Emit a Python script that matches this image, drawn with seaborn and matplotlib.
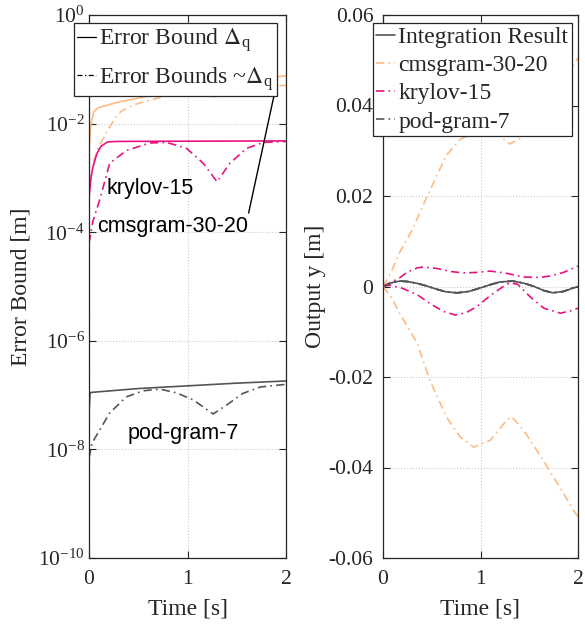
import numpy as np
import pandas as pd
import matplotlib
matplotlib.use("Agg")
import matplotlib.pyplot as plt
from matplotlib.lines import Line2D
import seaborn as sns

#%% data
# left panel: error bounds (solid) and estimated bounds (dash-dot)
t_cms_bound = [0, 0.02, 0.05, 0.09, 0.3, 0.6, 1.0, 1.4, 1.8, 2.0]
cms_bound = [3.2e-3, 1.0e-2, 1.66e-2, 1.95e-2, 2.5e-2, 3.2e-2, 4.2e-2, 5.5e-2, 6.9e-2, 7.6e-2]
t_cms_est = [0.05, 0.09, 0.19, 0.27, 0.33, 0.45, 0.55, 0.8, 1.0, 1.3, 1.6, 1.9, 2.0]
cms_est = [2.0e-3, 3.5e-3, 7.6e-3, 1.3e-2, 1.7e-2, 2.2e-2, 2.5e-2, 3.3e-2, 3.55e-2, 3.1e-2, 4.0e-2, 4.9e-2, 5.1e-2]

t_kry_bound = [0, 0.02, 0.04, 0.08, 0.12, 0.19, 0.3, 2.0]
kry_bound = [4.3e-4, 1.0e-3, 1.6e-3, 2.8e-3, 3.8e-3, 4.6e-3, 4.7e-3, 4.8e-3]
t_kry_est = [0, 0.04, 0.11, 0.21, 0.38, 0.62, 0.79, 0.99, 1.16, 1.3, 1.43, 1.6, 1.77, 2.0]
kry_est = [6.3e-5, 1.6e-4, 4.0e-4, 1.86e-3, 3.2e-3, 4.4e-3, 4.5e-3, 3.5e-3, 1.86e-3, 8.5e-4, 1.86e-3, 3.5e-3, 4.5e-3, 4.7e-3]

t_pod_bound = [0, 0.01, 0.02, 0.5, 1.0, 1.5, 2.0]
pod_bound = [4.9e-8, 1.05e-7, 1.12e-7, 1.32e-7, 1.48e-7, 1.66e-7, 1.82e-7]
t_pod_est = [0, 0.03, 0.21, 0.38, 0.55, 0.72, 0.89, 1.06, 1.26, 1.4, 1.56, 1.74, 2.0]
pod_est = [6.9e-9, 1.3e-8, 4.7e-8, 9.3e-8, 1.2e-7, 1.29e-7, 1.1e-7, 8.1e-8, 4.5e-8, 6.6e-8, 1.07e-7, 1.41e-7, 1.58e-7]

# right panel: output y
t_int = [0, 0.05, 0.1, 0.17, 0.25, 0.35, 0.45, 0.55, 0.65, 0.76, 0.88, 1.0, 1.1, 1.2, 1.33, 1.45, 1.55, 1.65, 1.74, 1.85, 1.93, 2.0]
y_int = [0, 0.0005, 0.0009, 0.0012, 0.0011, 0.0007, 0.0001, -0.0006, -0.0012, -0.0014, -0.0011, -0.0003,
         0.0004, 0.0010, 0.0012, 0.0007, 0.0, -0.0009, -0.0014, -0.0011, -0.0005, 0.0]

t_cms_up = [0, 0.08, 0.17, 0.3, 0.45, 0.65, 0.79, 0.91, 1.0, 1.17, 1.3, 1.44, 1.64, 1.85, 1.94, 2.0]
y_cms_up = [0, 0.003, 0.0075, 0.0125, 0.0198, 0.029, 0.0325, 0.0337, 0.0345, 0.0337, 0.0315, 0.033, 0.040, 0.046, 0.0485, 0.0505]
t_cms_lo = [0, 0.08, 0.17, 0.35, 0.48, 0.65, 0.79, 0.93, 1.1, 1.27, 1.32, 1.44, 1.64, 1.85, 2.0]
y_cms_lo = [0, -0.0022, -0.0059, -0.0125, -0.0207, -0.0288, -0.0332, -0.0355, -0.034, -0.0295, -0.0288, -0.0317, -0.0383, -0.0457, -0.051]

t_kry_up = [0, 0.07, 0.17, 0.25, 0.35, 0.41, 0.55, 0.7, 0.82, 0.95, 1.1, 1.25, 1.44, 1.6, 1.71, 1.85, 2.0]
y_kry_up = [0, 0.0008, 0.0019, 0.0032, 0.0041, 0.0043, 0.0040, 0.0033, 0.0030, 0.0031, 0.0034, 0.0030, 0.0021, 0.0020, 0.0023, 0.0031, 0.0045]
t_kry_lo = [0, 0.07, 0.2, 0.35, 0.5, 0.62, 0.74, 0.85, 0.96, 1.1, 1.22, 1.3, 1.38, 1.51, 1.65, 1.82, 1.92, 2.0]
y_kry_lo = [0, 0.0003, -0.0004, -0.0018, -0.0040, -0.0055, -0.0063, -0.0058, -0.0045, -0.0020, -0.0002, 0.0008, 0.0005,
            -0.0023, -0.0048, -0.0059, -0.0054, -0.0048]

# pod-gram-7 bounds are ~1e-7, so they sit on the integration result
y_pod_up = y_int
y_pod_lo = y_int

left_ticks = [1e-10, 1e-8, 1e-6, 1e-4, 1e-2, 1e0]
left_ticklabels = ['$\\mathregular{10^{-10}}$', '$\\mathregular{10^{-8}}$', '$\\mathregular{10^{-6}}$',
                   '$\\mathregular{10^{-4}}$', '$\\mathregular{10^{-2}}$', '$\\mathregular{10^{0}}$']
right_ticks = [-0.06, -0.04, -0.02, 0, 0.02, 0.04, 0.06]
right_ticklabels = ['-0.06', '-0.04', '-0.02', '0', '0.02', '0.04', '0.06']

#%% style
sns.set_style("ticks")
plt.rcParams['font.family'] = ['Liberation Serif', 'DejaVu Serif']
plt.rcParams['mathtext.fontset'] = 'stix'
plt.rcParams['axes.unicode_minus'] = False
plt.rcParams['font.size'] = 15.5

c_orange = '#FDBB80'
c_mag = '#E6137F'
c_gray = '#555555'
txt_col = '#262626'
dd = (5, 2.5, 1, 2.5)
lw = 1.2
fs_lab = 17

fig = plt.figure(figsize=(5.85, 6.28), dpi=100)
ax1 = fig.add_axes([89 / 585, 70 / 628, 197 / 585, 543 / 628])
ax2 = fig.add_axes([383 / 585, 70 / 628, 195 / 585, 543 / 628])

#%% left panel
sns.lineplot(x=t_cms_bound, y=cms_bound, ax=ax1, color=c_orange, lw=lw, estimator=None, sort=False)
sns.lineplot(x=t_cms_est, y=cms_est, ax=ax1, color=c_orange, lw=lw, estimator=None, sort=False).lines[-1].set_dashes(dd)
sns.lineplot(x=t_kry_bound, y=kry_bound, ax=ax1, color=c_mag, lw=lw, estimator=None, sort=False)
sns.lineplot(x=t_kry_est, y=kry_est, ax=ax1, color=c_mag, lw=lw, estimator=None, sort=False).lines[-1].set_dashes(dd)
sns.lineplot(x=t_pod_bound, y=pod_bound, ax=ax1, color=c_gray, lw=lw, estimator=None, sort=False)
sns.lineplot(x=t_pod_est, y=pod_est, ax=ax1, color=c_gray, lw=lw, estimator=None, sort=False).lines[-1].set_dashes(dd)

ax1.set_yscale('log')
ax1.set_xlim(0, 2)
ax1.set_ylim(1e-10, 1e0)
ax1.set_yticks(left_ticks)
ax1.set_yticklabels(left_ticklabels)
ax1.minorticks_off()
ax1.set_xticks([0, 1, 2])
ax1.set_xticklabels(['0', '1', '2'])
ax1.set_ylabel('Error Bound [m]', fontsize=fs_lab)

ann_font = dict(family=['Liberation Sans', 'DejaVu Sans'], fontsize=15.5, color='black')
ax1.text(0.62, 6.5e-4, 'krylov-15', ha='center', va='center', **ann_font)
ax1.text(0.954, 2.0e-8, 'pod-gram-7', ha='center', va='center', **ann_font)
ax1.annotate('cmsgram-30-20', xy=(1.9, 5.0e-2), xytext=(0.853, 1.26e-4), ha='center', va='center',
             arrowprops=dict(arrowstyle='-', color='black', lw=1.0, relpos=(0.99, 0.8), shrinkA=0, shrinkB=0),
             **ann_font)

handles = [Line2D([], [], color='black', lw=0.9),
           Line2D([], [], color='black', lw=0.9, dashes=(4, 2, 1, 2))]
leg1 = ax1.legend(handles, ['Error Bound $\\Delta_\\mathregular{q}$', 'Error Bounds ~$\\Delta_\\mathregular{q}$'],
                  loc='upper right', bbox_to_anchor=(0.954, 0.985), frameon=True, fancybox=False,
                  framealpha=1, edgecolor='#262626', handlelength=0.8, handletextpad=0.13,
                  borderpad=0.15, borderaxespad=0, labelspacing=0.45, fontsize=fs_lab)
leg1.get_frame().set_linewidth(0.9)

#%% right panel
sns.lineplot(x=t_int, y=y_int, ax=ax2, color=c_gray, lw=lw, estimator=None, sort=False, label='Integration Result', zorder=4)
sns.lineplot(x=t_cms_up, y=y_cms_up, ax=ax2, color=c_orange, lw=lw, estimator=None, sort=False, label='cmsgram-30-20').lines[-1].set_dashes(dd)
sns.lineplot(x=t_cms_lo, y=y_cms_lo, ax=ax2, color=c_orange, lw=lw, estimator=None, sort=False).lines[-1].set_dashes(dd)
sns.lineplot(x=t_kry_up, y=y_kry_up, ax=ax2, color=c_mag, lw=lw, estimator=None, sort=False, label='krylov-15').lines[-1].set_dashes(dd)
sns.lineplot(x=t_kry_lo, y=y_kry_lo, ax=ax2, color=c_mag, lw=lw, estimator=None, sort=False).lines[-1].set_dashes(dd)
sns.lineplot(x=t_int, y=y_pod_up, ax=ax2, color=c_gray, lw=lw, estimator=None, sort=False, label='pod-gram-7', zorder=1).lines[-1].set_dashes(dd)
sns.lineplot(x=t_int, y=y_pod_lo, ax=ax2, color=c_gray, lw=lw, estimator=None, sort=False, zorder=1).lines[-1].set_dashes(dd)

ax2.set_xlim(0, 2)
ax2.set_ylim(-0.06, 0.06)
ax2.set_yticks(right_ticks)
ax2.set_yticklabels(right_ticklabels)
ax2.set_xticks([0, 1, 2])
ax2.set_xticklabels(['0', '1', '2'])
ax2.set_ylabel('Output y [m]', fontsize=fs_lab)

leg2 = ax2.legend(loc='upper right', bbox_to_anchor=(0.969, 0.985), frameon=True, fancybox=False,
                  framealpha=1, edgecolor='#262626', handlelength=0.8, handletextpad=0.13,
                  borderpad=0.15, borderaxespad=0, labelspacing=0.28, fontsize=fs_lab)
leg2.get_frame().set_linewidth(0.9)

#%% common axis styling
for ax in (ax1, ax2):
    ax.grid(True, which='major', linestyle=':', color='#cccccc', lw=0.8)
    ax.set_axisbelow(True)
    ax.tick_params(direction='in', top=True, right=True, length=5, width=0.8, colors=txt_col)
    ax.tick_params(axis='x', pad=9)
    for s in ax.spines.values():
        s.set_visible(True)
        s.set_color('#262626')
        s.set_linewidth(0.9)
    ax.set_xlabel('Time [s]', color=txt_col, fontsize=fs_lab)
    ax.yaxis.label.set_color(txt_col)
    ax.xaxis.set_label_coords(0.5, -0.075)
    ax.yaxis.set_label_coords(-0.29, 0.5)
    ax.yaxis.label.set_va('bottom')
ax1.tick_params(axis='y', pad=3)
ax2.tick_params(axis='y', pad=7)

fig.savefig('out.png', dpi=100)
